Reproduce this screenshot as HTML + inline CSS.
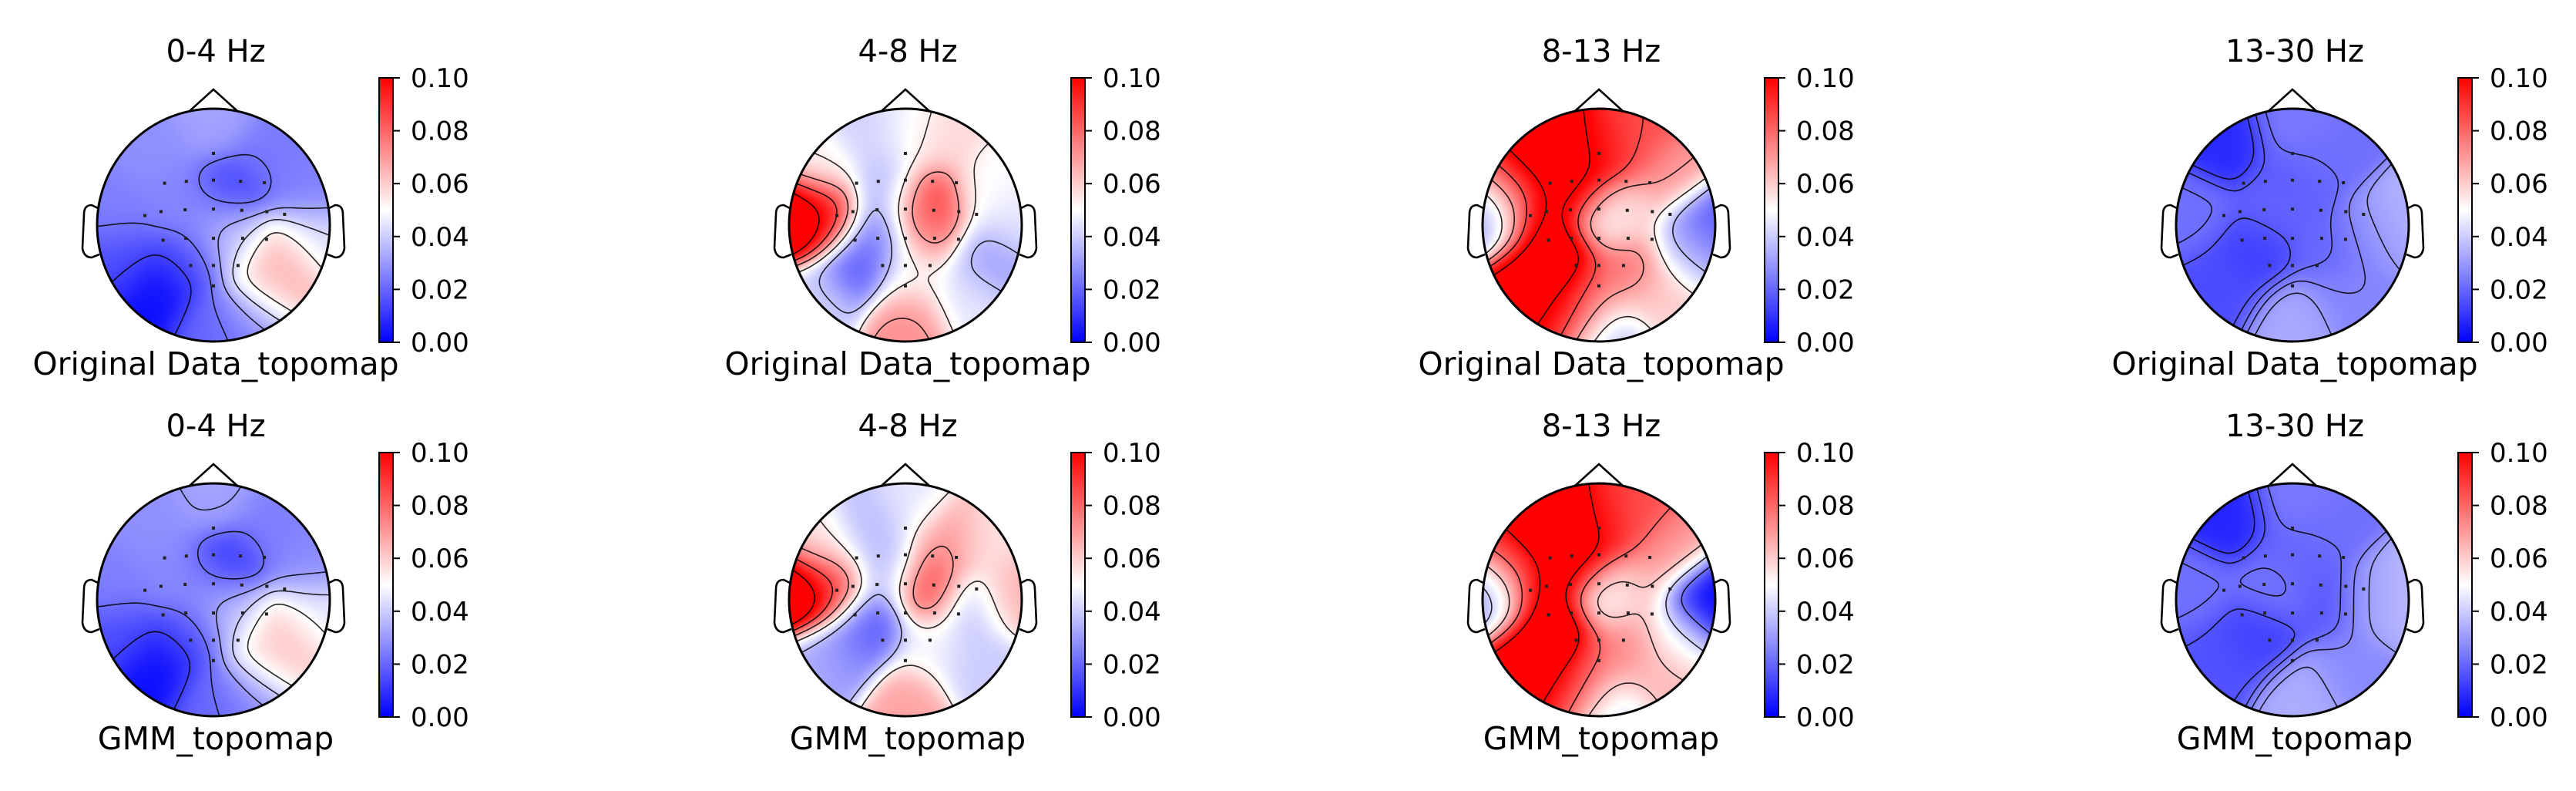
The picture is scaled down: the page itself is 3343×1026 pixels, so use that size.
<!DOCTYPE html>
<html><head><meta charset="utf-8">
<style>
html,body{margin:0;padding:0;background:#fff;}
#wrap{position:relative;width:3343px;height:1026px;overflow:hidden;background:#fff;}
canvas{position:absolute;}
svg{position:absolute;left:0;top:0;}
</style></head>
<body>
<div id="wrap">
<svg id="fig" width="3343" height="1026" viewBox="0 0 3343 1026" xmlns="http://www.w3.org/2000/svg"></svg>
</div>
<script>
const bands = ["0-4 Hz", "4-8 Hz", "8-13 Hz", "13-30 Hz"];
const rowLabels = ["Original Data_topomap", "GMM_topomap"];
const tickValues = [0.00, 0.02, 0.04, 0.06, 0.08, 0.10];
const colorMin = 0.0;
const colorMax = 0.1;
const electrodes = [[0,-0.616],[-0.42,-0.36],[-0.233,-0.376],[0,-0.387],[0.233,-0.376],[0.438,-0.364],[-0.589,-0.082],[-0.451,-0.116],[-0.244,-0.132],[0,-0.138],[0.244,-0.127],[0.459,-0.116],[0.611,-0.093],[-0.433,0.129],[-0.238,0.113],[0,0.113],[0.251,0.113],[0.456,0.122],[-0.196,0.347],[0,0.347],[0.211,0.347],[0,0.522]];
// value control points [x, y, value] in head-normalized coordinates
const orig0to4 = [[0,0,0.03],[-0.5,-0.6,0.028],[0,-0.85,0.032],[0.5,-0.6,0.024],[0.15,-0.3,0.013],[-0.3,-0.2,0.026],[-0.85,-0.1,0.025],[-0.8,0.3,0.015],[-0.5,0.6,0.002],[-0.2,0.3,0.014],[0,0.85,0.02],[0.2,0.15,0.045],[0.6,0.3,0.068],[0.45,0.55,0.062],[0.8,-0.3,0.025],[0.85,0.1,0.042],[0.3,0.8,0.025]];
const gmm0to4 = [[0,0,0.03],[-0.5,-0.6,0.028],[0,-0.85,0.032],[0.5,-0.6,0.025],[0.12,-0.3,0.01],[-0.3,-0.2,0.027],[-0.85,-0.1,0.025],[-0.8,0.3,0.015],[-0.5,0.6,0.002],[-0.2,0.3,0.014],[0,0.85,0.02],[0.2,0.15,0.043],[0.6,0.3,0.064],[0.45,0.55,0.058],[0.8,-0.3,0.027],[0.85,0.1,0.045],[0.3,0.8,0.025]];
const orig4to8 = [[-0.89,-0.05,0.125],[-0.68,-0.07,0.09],[0.2,-0.18,0.092],[0.2,0.06,0.075],[-0.44,0.36,0.015],[-0.25,0.1,0.022],[-0.15,-0.3,0.035],[0.02,0.8,0.072],[0.69,0.27,0.03],[-0.3,-0.8,0.04],[0.27,-0.76,0.058],[0,-0.85,0.048],[0.69,-0.29,0.05],[0.9,-0.03,0.045],[-0.72,0.62,0.042],[0.05,0.4,0.05],[-0.7,-0.5,0.052],[0.5,0.6,0.045]];
const gmm4to8 = [[-0.9,-0.06,0.125],[-0.62,-0.1,0.085],[-0.3,0.2,0.015],[-0.5,0.45,0.025],[-0.3,-0.6,0.036],[-0.15,-0.25,0.035],[0.05,-0.8,0.045],[0.2,-0.1,0.092],[0.35,-0.5,0.072],[0.55,0.05,0.035],[0.88,-0.05,0.066],[0.7,-0.5,0.055],[0,0.85,0.068],[0.6,0.55,0.04],[-0.7,0.55,0.035],[0.2,0.4,0.048],[-0.7,-0.45,0.055]];
const orig8to13 = [[-0.87,-0.1,0.03],[-0.5,-0.05,0.11],[-0.45,-0.6,0.12],[-0.2,-0.3,0.11],[-0.3,0.3,0.12],[-0.55,0.45,0.11],[-0.2,0.7,0.1],[0.05,-0.05,0.045],[0.25,-0.1,0.06],[0.3,-0.7,0.085],[0.6,-0.4,0.07],[0.9,0,0.015],[0.75,0.2,0.04],[0.07,0.85,0.035],[0,0.55,0.075],[0.5,0.6,0.06],[0.25,0.35,0.08],[0,-0.6,0.1],[-0.7,-0.35,0.09]];
const gmm8to13 = [[-0.87,-0.05,0.03],[-0.5,-0.05,0.11],[-0.45,-0.6,0.12],[-0.2,-0.3,0.11],[-0.3,0.3,0.12],[-0.55,0.45,0.11],[-0.2,0.7,0.1],[0.05,0,0.04],[0.25,-0.1,0.065],[0.3,-0.7,0.085],[0.6,-0.4,0.07],[0.9,0,0.0],[0.65,0.3,0.045],[0.07,0.85,0.04],[0,0.55,0.075],[0.5,0.6,0.065],[0.25,0.35,0.075],[0,-0.6,0.1],[-0.7,-0.35,0.09]];
const orig13to30 = [[-0.57,-0.7,0.008],[-0.32,0.23,0.012],[-0.6,0.5,0.015],[0.9,0,0.036],[0.7,0.1,0.027],[0.03,0.8,0.033],[-0.14,-0.13,0.02],[0.3,-0.6,0.022],[0.3,0.2,0.02],[-0.85,-0.1,0.022],[0.5,0.6,0.026],[0,-0.35,0.018],[0,-0.85,0.024]];
const gmm13to30 = [[-0.55,-0.7,0.007],[-0.3,0.3,0.012],[-0.6,0.5,0.016],[0.88,0,0.038],[0.7,0,0.03],[0.1,0.82,0.034],[0.3,0,0.017],[-0.15,-0.1,0.024],[0.3,-0.6,0.022],[-0.85,-0.1,0.022],[0.5,0.6,0.027],[0,-0.35,0.019],[0,-0.85,0.024]];
const maps = [[orig0to4, orig4to8, orig8to13, orig13to30],[gmm0to4, gmm4to8, gmm8to13, gmm13to30]];

const NS = "http://www.w3.org/2000/svg";
const svg = document.getElementById('fig');
const wrap = document.getElementById('wrap');
const colCx = [277, 1175, 2075, 2975];
const rowCy = [292, 778];
const R = 151;
const FONT = '"DejaVu Sans", "Liberation Sans", sans-serif';

function cmap(v){
  let t = (v - colorMin) / (colorMax - colorMin);
  t = Math.max(0, Math.min(1, t));
  let r, g, b;
  if (t < 0.5){ r = g = 2*t; b = 1; } else { r = 1; g = b = 2*(1-t); }
  return [Math.round(r*255), Math.round(g*255), Math.round(b*255)];
}
function field(pts, x, y){
  let ws = 0, s = 0;
  for (const p of pts){
    const dx = x - p[0], dy = y - p[1];
    const w = Math.exp(-(dx*dx + dy*dy) / 0.075) + 1e-6;
    ws += w; s += w * p[2];
  }
  return s / ws;
}
function el(tag, attrs, parent){
  const e = document.createElementNS(NS, tag);
  for (const k in attrs) e.setAttribute(k, attrs[k]);
  (parent || svg).appendChild(e);
  return e;
}

const defs = el('defs', {});
const grad = el('linearGradient', {id:'cbgrad', x1:'0', y1:'1', x2:'0', y2:'0'}, defs);
for (let i = 0; i <= 20; i++){
  const c = cmap(colorMin + (colorMax - colorMin) * i / 20);
  el('stop', {offset: (i/20).toFixed(3), 'stop-color': `rgb(${c[0]},${c[1]},${c[2]})`}, grad);
}

for (let r = 0; r < 2; r++){
  for (let c = 0; c < 4; c++){
    const cx = colCx[c], cy = rowCy[r];
    const pts = maps[r][c];
    const g = el('g', {});
    
    

    const cv = document.createElement('canvas');
    cv.width = 2*R; cv.height = 2*R;
    cv.style.left = (cx - R) + 'px'; cv.style.top = (cy - R) + 'px';
    
    
    wrap.insertBefore(cv, svg);
    const ctx = cv.getContext('2d');
    const img = ctx.createImageData(2*R, 2*R);
    for (let py = 0; py < 2*R; py++){
      for (let px = 0; px < 2*R; px++){
        const nx = (px + 0.5 - R) / R, ny = (py + 0.5 - R) / R;
        const d = Math.sqrt(nx*nx + ny*ny);
        const i = (py*2*R + px)*4;
        if (d > 1.0){ img.data[i+3] = 0; continue; }
        const col = cmap(field(pts, nx, ny));
        img.data[i] = col[0]; img.data[i+1] = col[1]; img.data[i+2] = col[2]; img.data[i+3] = 255;
      }
    }
    ctx.putImageData(img, 0, 0);

    const clipId = 'clip' + r + c;
    const cp = el('clipPath', {id: clipId}, defs);
    el('circle', {cx: cx, cy: cy, r: R - 1}, cp);

    const N = 100;
    const grid = [];
    let vmin = 1e9, vmax = -1e9;
    for (let j = 0; j <= N; j++){
      grid.push([]);
      for (let i = 0; i <= N; i++){
        const nx = -1 + 2*i/N, ny = -1 + 2*j/N;
        const v = field(pts, nx, ny);
        grid[j].push(v);
        if (nx*nx + ny*ny <= 1){ vmin = Math.min(vmin, v); vmax = Math.max(vmax, v); }
      }
    }
    const levels = [];
    const step = (vmax - vmin) / 6;
    for (let k = 1; k < 6; k++) levels.push(vmin + k*step);
    let d = '';
    const X = i => (cx + (-1 + 2*i/N)*R).toFixed(1);
    const Y = j => (cy + (-1 + 2*j/N)*R).toFixed(1);
    for (const L of levels){
      for (let j = 0; j < N; j++){
        for (let i = 0; i < N; i++){
          const a = grid[j][i], b = grid[j][i+1], cc = grid[j+1][i+1], dd = grid[j+1][i];
          const ptsE = [];
          if ((a < L) !== (b < L)) ptsE.push([i + (L-a)/(b-a), j]);
          if ((b < L) !== (cc < L)) ptsE.push([i+1, j + (L-b)/(cc-b)]);
          if ((dd < L) !== (cc < L)) ptsE.push([i + (L-dd)/(cc-dd), j+1]);
          if ((a < L) !== (dd < L)) ptsE.push([i, j + (L-a)/(dd-a)]);
          for (let k = 0; k + 1 < ptsE.length; k += 2){
            d += 'M' + X(ptsE[k][0]) + ' ' + Y(ptsE[k][1]) + 'L' + X(ptsE[k+1][0]) + ' ' + Y(ptsE[k+1][1]);
          }
        }
      }
    }
    const cont = el('path', {d: d, fill: 'none', stroke: '#000', 'stroke-width': 1.6, 'clip-path': `url(#${clipId})`, opacity: 0.85}, g);
    
    

    for (const e of electrodes){
      const dot = el('rect', {x: (cx + e[0]*R - 2).toFixed(1), y: (cy + e[1]*R - 2).toFixed(1), width: 4, height: 4, fill: '#222'}, g);
      
      
    }

    const head = el('circle', {cx: cx, cy: cy, r: R, fill: 'none', stroke: '#000', 'stroke-width': 3}, g);
    
    
    const nose = el('path', {d: `M${cx-31} ${cy-148} L${cx} ${cy-176} L${cx+31} ${cy-148}`, fill: 'none', stroke: '#000', 'stroke-width': 2.6}, g);
    
    
    const earL = el('path', {d: `M${cx-150} ${cy-22} L${cx-158} ${cy-26} Q${cx-168} ${cy-26} ${cx-168} ${cy-14} L${cx-170} ${cy+30} Q${cx-168} ${cy+42} ${cx-158} ${cy+42} L${cx-148} ${cy+38}`, fill: 'none', stroke: '#000', 'stroke-width': 2.6}, g);
    
    
    const earR = el('path', {d: `M${cx+150} ${cy-22} L${cx+158} ${cy-26} Q${cx+168} ${cy-26} ${cx+168} ${cy-14} L${cx+170} ${cy+30} Q${cx+168} ${cy+42} ${cx+158} ${cy+42} L${cx+148} ${cy+38}`, fill: 'none', stroke: '#000', 'stroke-width': 2.6}, g);
    
    

    const t = el('text', {x: cx + 3, y: cy - 212, 'text-anchor': 'middle', 'font-family': FONT, 'font-size': 40, fill: '#000'}, g);
    t.textContent = bands[c];
    
    
    const lb = el('text', {x: cx + 3, y: cy + 194, 'text-anchor': 'middle', 'font-family': FONT, 'font-size': 41, fill: '#000'}, g);
    lb.textContent = rowLabels[r];
    
    

    const cbx = cx + 215, cbTop = cy - 191, cbBot = cy + 152, cbw = 18;
    const cbg = el('g', {}, g);
    
    
    el('rect', {x: cbx, y: cbTop, width: cbw, height: cbBot - cbTop, fill: 'url(#cbgrad)', stroke: '#000', 'stroke-width': 2}, cbg);
    const ys = v => cbBot - (v - colorMin) / (colorMax - colorMin) * (cbBot - cbTop);
    for (const tv of tickValues){
      const y = ys(tv);
      const tk = el('line', {x1: cbx + cbw, x2: cbx + cbw + 9, y1: y, y2: y, stroke: '#000', 'stroke-width': 2}, cbg);
      
      
      const tl = el('text', {x: cbx + 41, y: y + 12, 'font-family': FONT, 'font-size': 34, fill: '#000'}, cbg);
      tl.textContent = tv.toFixed(2);
      
      
    }
  }
}
</script>
</body></html>
